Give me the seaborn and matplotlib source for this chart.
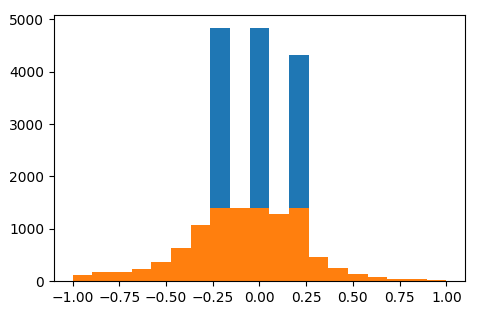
import numpy as np
import pandas as pd
import matplotlib
matplotlib.use("Agg")
import matplotlib.pyplot as plt
import seaborn as sns

# Data
n_bins = 19
range_min, range_max = -1.0, 1.0
blue_values = [-0.2, 0.0, 0.2]
blue_counts = [4840, 4840, 4325]
orange_counts = [115, 170, 170, 230, 356, 630, 1075, 1400, 1400, 1400,
                 1285, 1400, 465, 255, 140, 70, 45, 30, 25]

edges = np.linspace(range_min, range_max, n_bins + 1)
orange_values = (edges[:-1] + edges[1:]) / 2

blue_df = pd.DataFrame({"x": blue_values, "w": blue_counts})
orange_df = pd.DataFrame({"x": orange_values, "w": orange_counts})

fig = plt.figure(figsize=(4.9, 3.14), dpi=100)
ax = fig.add_axes([0.110, 0.105, 0.839, 0.847])

sns.histplot(data=blue_df, x="x", weights="w", bins=n_bins,
             binrange=(range_min, range_max), color="#1f77b4",
             alpha=1, linewidth=0, ax=ax)
sns.histplot(data=orange_df, x="x", weights="w", bins=n_bins,
             binrange=(range_min, range_max), color="#ff7f0e",
             alpha=1, linewidth=0, ax=ax)

ax.set_xlim(-1.1, 1.1)
ax.set_ylim(0, 5082)
ax.set_xticks([-1.0, -0.75, -0.5, -0.25, 0.0, 0.25, 0.5, 0.75, 1.0])
ax.set_xticklabels(["−1.00", "−0.75", "−0.50", "−0.25", "0.00", "0.25", "0.50", "0.75", "1.00"])
ax.set_yticks([0, 1000, 2000, 3000, 4000, 5000])
ax.set_xlabel("")
ax.set_ylabel("")

fig.savefig("out.png", dpi=100)
